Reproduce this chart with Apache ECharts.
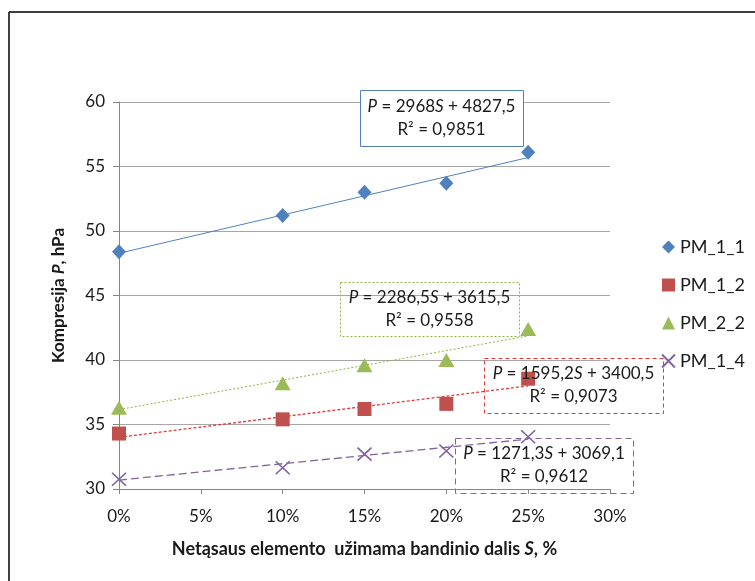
<!DOCTYPE html>
<html>
<head>
<meta charset="utf-8">
<script src="https://cdn.jsdelivr.net/npm/echarts@6/dist/echarts.min.js"></script>
<style>
html,body{margin:0;padding:0;background:#fff;}
#chart{width:755px;height:581px;}
</style>
</head>
<body>
<div id="chart"></div>
<script>
// ---- data ----
const xValues = [0, 10, 15, 20, 25];              // S, %
const seriesNames = ['PM_1_1', 'PM_1_2', 'PM_2_2', 'PM_1_4'];
const pm11 = [48.4, 51.2, 53.0, 53.7, 56.1];
const pm12 = [34.3, 35.4, 36.2, 36.6, 38.55];
const pm22 = [36.3, 38.2, 39.6, 40.0, 42.4];
const pm14 = [30.75, 31.65, 32.7, 32.95, 34.05];
const trendSlopes = [2968, 1595.2, 2286.5, 1271.3];
const trendIntercepts = [4827.5, 3400.5, 3615.5, 3069.1];
const r2Values = ['0,9851', '0,9073', '0,9558', '0,9612'];
const xTickValues = [0, 5, 10, 15, 20, 25, 30];
const yTickValues = [30, 35, 40, 45, 50, 55, 60];

const seriesValues = [pm11, pm12, pm22, pm14];
const colors = ['#4F81BD', '#C0504D', '#9BBB59', '#8064A2'];
const trendColors = ['#4F81BD', '#E23A36', '#8DB43E', '#8064A2'];
const trendDash = ['solid', [3, 2], [2, 2], [8, 4]];
const trendWidth = [1, 1.3, 1, 1.3];
const symbols = ['diamond', 'rect', 'triangle', 'path://M0,0L10,10M10,0L0,10'];
const symbolSizes = [[14, 15], [14, 14], [16, 14], [14, 13]];
const FONT = 'Lato, "Open Sans", sans-serif';

function fmt(v) { return String(v).replace('.', ','); }

const series = [];
seriesNames.forEach((name, i) => {
  const xs = [xValues[0], xValues[xValues.length - 1]];
  series.push({
    name: name + ' trend',
    type: 'line',
    data: xs.map(x => [x, (trendIntercepts[i] + trendSlopes[i] * x / 100) / 100]),
    symbol: 'none',
    silent: true,
    z: 2,
    lineStyle: { color: trendColors[i], width: trendWidth[i], type: trendDash[i] }
  });
});
seriesNames.forEach((name, i) => {
  const isX = i === 3;
  series.push({
    name: name,
    type: 'scatter',
    data: xValues.map((x, k) => [x, seriesValues[i][k]]),
    symbol: symbols[i],
    symbolSize: symbolSizes[i],
    z: 3,
    itemStyle: isX ? { color: 'rgba(0,0,0,0)', borderColor: colors[i], borderWidth: 1.6, opacity: 1 }
                   : { color: colors[i], opacity: 1 }
  });
});

// equation boxes (annotation layout), in series order
const boxes = [
  { x: 360, y: 90, w: 163, h: 56, dash: null, fill: '#fff' },
  { x: 484, y: 358, w: 179, h: 55, dash: [4, 3], fill: null },
  { x: 340, y: 282, w: 179, h: 54, dash: [2, 2], fill: null },
  { x: 455, y: 438, w: 178, h: 55, dash: [6, 4], fill: null }
];
const graphics = [
  { type: 'line', shape: { x1: 9, y1: 12, x2: 755, y2: 12 }, style: { stroke: '#000', lineWidth: 1.5 } },
  { type: 'line', shape: { x1: 9, y1: 12, x2: 9, y2: 581 }, style: { stroke: '#000', lineWidth: 1.5 } }
];
boxes.forEach((b, i) => {
  graphics.push({
    type: 'rect', z: 10,
    shape: { x: b.x + 0.5, y: b.y + 0.5, width: b.w, height: b.h },
    style: { fill: b.fill || 'rgba(0,0,0,0)', stroke: trendColors[i], lineWidth: 1, lineDash: b.dash }
  });
  graphics.push({
    type: 'text', z: 11,
    x: b.x + b.w / 2, y: b.y + b.h / 2,
    style: {
      text: '{i|P} = ' + fmt(trendSlopes[i]) + '{i|S} + ' + fmt(trendIntercepts[i]) + '\nR² = ' + r2Values[i],
      rich: { i: { fontStyle: 'italic', fontSize: 17, fontFamily: FONT, fill: '#1a1a1a' } },
      fontSize: 17, fontFamily: FONT, fill: '#1a1a1a',
      align: 'center', verticalAlign: 'middle', lineHeight: 23
    }
  });
});

const chart = echarts.init(document.getElementById('chart'));
chart.setOption({
  backgroundColor: '#fff',
  animation: false,
  grid: { left: 119, right: 145, top: 102, bottom: 92, containLabel: false },
  xAxis: {
    type: 'value', min: xTickValues[0], max: xTickValues[xTickValues.length - 1], interval: 5,
    axisLine: { lineStyle: { color: '#868686', width: 1 } },
    axisTick: { show: true, length: 5, lineStyle: { color: '#868686' } },
    splitLine: { show: false },
    axisLabel: { formatter: v => v + '%', fontSize: 17, fontFamily: FONT, color: '#1a1a1a', margin: 19 },
    name: '{b|Netąsaus elemento  užimama bandinio dalis }{bi|S}{b|, %}',
    nameLocation: 'middle', nameGap: 51,
    nameTextStyle: {
      rich: {
        b: { fontWeight: 'bold', fontSize: 18, fontFamily: FONT, color: '#1a1a1a' },
        bi: { fontWeight: 'bold', fontStyle: 'italic', fontSize: 18, fontFamily: FONT, color: '#1a1a1a' }
      }
    }
  },
  yAxis: {
    type: 'value', min: yTickValues[0], max: yTickValues[yTickValues.length - 1], interval: 5,
    axisLine: { show: true, lineStyle: { color: '#868686', width: 1 } },
    axisTick: { show: true, length: 6, lineStyle: { color: '#868686' } },
    splitLine: { show: true, lineStyle: { color: '#a6a6a6', width: 1 } },
    axisLabel: { fontSize: 17, fontFamily: FONT, color: '#1a1a1a', margin: 14 },
    name: '{b|Kompresija }{bi|P}{b|, hPa}',
    nameLocation: 'middle', nameGap: 52, nameRotate: 90,
    nameTextStyle: {
      rich: {
        b: { fontWeight: 'bold', fontSize: 17, fontFamily: FONT, color: '#1a1a1a' },
        bi: { fontWeight: 'bold', fontStyle: 'italic', fontSize: 17, fontFamily: FONT, color: '#1a1a1a' }
      }
    }
  },
  legend: {
    orient: 'vertical', left: 661, top: 238, padding: 0,
    itemWidth: 13, itemHeight: 13, itemGap: 20,
    textStyle: { fontSize: 18, fontFamily: FONT, color: '#1a1a1a', lineHeight: 16 },
    data: seriesNames.map((n, i) => ({ name: n, icon: symbols[i] }))
  },
  series: series,
  graphic: graphics
});
</script>
</body>
</html>
